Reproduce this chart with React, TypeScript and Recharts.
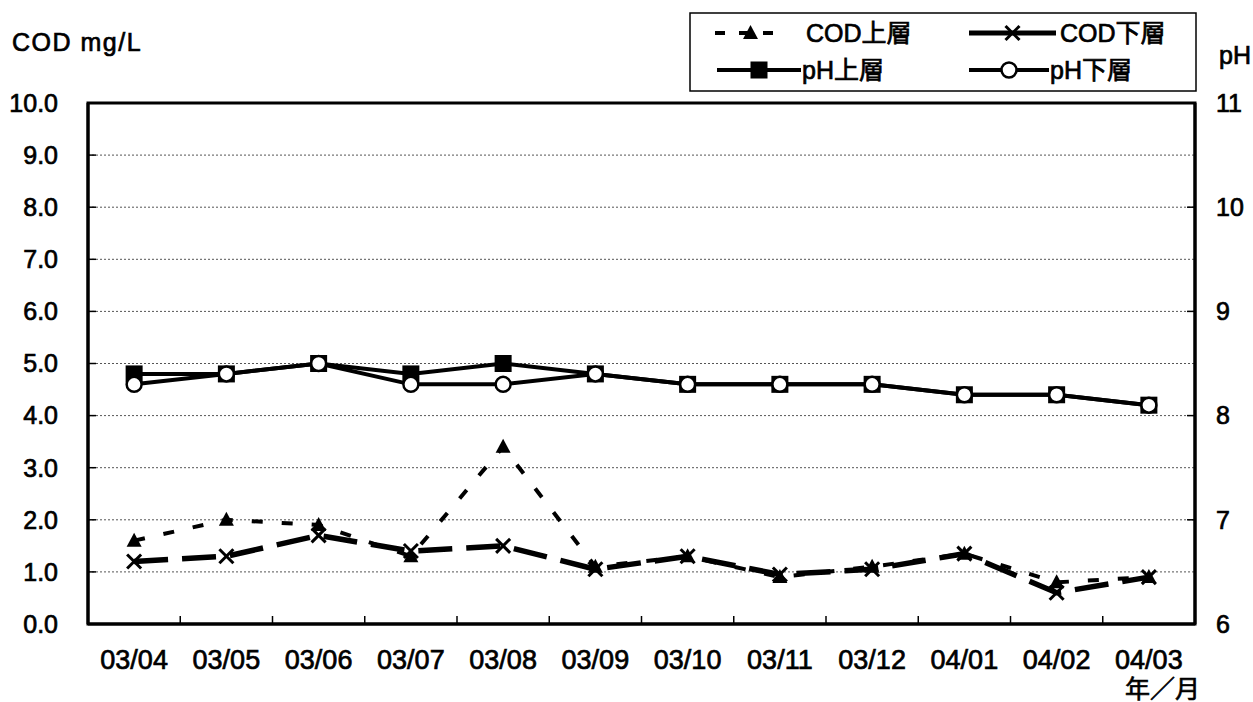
import React from 'react';
import { ComposedChart, Line, XAxis, YAxis, CartesianGrid, ReferenceArea } from 'recharts';

const categories = ['03/04', '03/05', '03/06', '03/07', '03/08', '03/09', '03/10', '03/11', '03/12', '04/01', '04/02', '04/03'];
const codUpper = [1.6, 2.0, 1.9, 1.3, 3.4, 1.1, 1.3, 0.9, 1.1, 1.35, 0.8, 0.9];
const codLower = [1.2, 1.3, 1.7, 1.4, 1.5, 1.05, 1.3, 0.95, 1.05, 1.35, 0.6, 0.9];
const phUpper = [8.4, 8.4, 8.5, 8.4, 8.5, 8.4, 8.3, 8.3, 8.3, 8.2, 8.2, 8.1];
const phLower = [8.3, 8.4, 8.5, 8.3, 8.3, 8.4, 8.3, 8.3, 8.3, 8.2, 8.2, 8.1];
const codTicks = [0, 1, 2, 3, 4, 5, 6, 7, 8, 9, 10];
const phTicks = [6, 7, 8, 9, 10, 11];

const data = categories.map((c, i) => ({
  cat: c,
  codU: codUpper[i],
  codL: codLower[i],
  phU: phUpper[i],
  phL: phLower[i],
}));

const FONT = '"Liberation Sans", Arial, "Noto Sans CJK JP", sans-serif';
const TEXT_STROKE = 0.7;
const X_TICK_SIZE = 6;
const X_TICK_MARGIN = 20;

const TriangleDot = (props: any) => {
  const { cx, cy, index } = props;
  if (cx == null || cy == null) return null;
  return <polygon key={`t${index}`} points={`${cx},${cy - 8} ${cx + 7.5},${cy + 6} ${cx - 7.5},${cy + 6}`} fill="#000" />;
};
const CrossDot = (props: any) => {
  const { cx, cy, index } = props;
  if (cx == null || cy == null) return null;
  return (
    <g key={`x${index}`}>
      <line x1={cx - 7} y1={cy - 7} x2={cx + 7} y2={cy + 7} stroke="#000" strokeWidth={3} />
      <line x1={cx - 7} y1={cy + 7} x2={cx + 7} y2={cy - 7} stroke="#000" strokeWidth={3} />
    </g>
  );
};
const SquareDot = (props: any) => {
  const { cx, cy, index } = props;
  if (cx == null || cy == null) return null;
  return <rect key={`s${index}`} x={cx - 8.5} y={cy - 8.5} width={17} height={17} fill="#000" />;
};
const CircleDot = (props: any) => {
  const { cx, cy, index } = props;
  if (cx == null || cy == null) return null;
  return <circle key={`c${index}`} cx={cx} cy={cy} r={7.5} fill="#fff" stroke="#000" strokeWidth={2.5} />;
};

const XTick = (props: any) => {
  const { x, y, payload, index } = props;
  const off = payload && typeof payload.offset === 'number' ? payload.offset : 0;
  const axisY = y - X_TICK_SIZE - X_TICK_MARGIN;
  return (
    <g>
      {index > 0 && off > 0 ? (
        <line x1={payload.coordinate - off} x2={payload.coordinate - off} y1={axisY} y2={axisY - 8} stroke="#000" strokeWidth={1.5} />
      ) : null}
      <text x={x} y={y} dy="0.71em" textAnchor="middle" fill="#000" stroke="#000" strokeWidth={TEXT_STROKE} fontSize={27} fontFamily={FONT}>
        {payload.value}
      </text>
    </g>
  );
};

const legendItems = [
  { name: 'COD上層', x: 715, y: 33, w: 71, tx: 806, dash: '10 14', sw: 4, marker: 'tri' },
  { name: 'COD下層', x: 969, y: 33, w: 87, tx: 1060, dash: undefined, sw: 5, marker: 'cross' },
  { name: 'pH上層', x: 717, y: 70, w: 84, tx: 802, dash: undefined, sw: 4, marker: 'square' },
  { name: 'pH下層', x: 969, y: 70, w: 80, tx: 1050, dash: undefined, sw: 4, marker: 'circle' },
];

const renderMarker = (m: string, cx: number, cy: number) => {
  if (m === 'tri') return <TriangleDot cx={cx} cy={cy} index={0} />;
  if (m === 'cross') return <CrossDot cx={cx} cy={cy} index={0} />;
  if (m === 'square') return <SquareDot cx={cx} cy={cy} index={0} />;
  return <CircleDot cx={cx} cy={cy} index={0} />;
};

const yTickStyle = { fill: '#000', stroke: '#000', strokeWidth: TEXT_STROKE, fontSize: 25, fontFamily: FONT };

export default function App() {
  return (
    <div style={{ position: 'absolute', left: 0, top: 0, width: 1253, height: 702, background: '#fff' }}>
      <ComposedChart width={1253} height={702} data={data} margin={{ top: 103, right: 0, bottom: 0, left: 0 }}>
        <CartesianGrid yAxisId="left" xAxisId="cat" vertical={false} stroke="#555" strokeDasharray="2 2" strokeWidth={1} />
        <XAxis
          xAxisId="cat"
          dataKey="cat"
          type="category"
          scale="band"
          height={78}
          tickLine={false}
          tickSize={X_TICK_SIZE}
          tickMargin={X_TICK_MARGIN}
          axisLine={{ stroke: '#000', strokeWidth: 3 }}
          tick={<XTick />}
          interval={0}
        />
        <YAxis
          yAxisId="left"
          domain={[0, 10]}
          ticks={codTicks}
          width={88}
          tickFormatter={(v: number) => v.toFixed(1)}
          tickSize={-8}
          tickMargin={38}
          tickLine={{ stroke: '#000', strokeWidth: 1.5 }}
          axisLine={{ stroke: '#000', strokeWidth: 3 }}
          tick={yTickStyle}
          interval={0}
        />
        <YAxis
          yAxisId="right"
          orientation="right"
          domain={[6, 11]}
          ticks={phTicks}
          width={58}
          tickSize={-8}
          tickMargin={29}
          tickLine={{ stroke: '#000', strokeWidth: 1.5 }}
          axisLine={{ stroke: '#000', strokeWidth: 3 }}
          tick={yTickStyle}
          interval={0}
        />
        <ReferenceArea yAxisId="left" xAxisId="cat" y1={0} y2={10} fill="none" stroke="#000" strokeWidth={3} ifOverflow="visible" />
        <Line xAxisId="cat" yAxisId="left" dataKey="codU" stroke="#000" strokeWidth={4} strokeDasharray="11 19" dot={TriangleDot} isAnimationActive={false} />
        <Line xAxisId="cat" yAxisId="left" dataKey="codL" stroke="#000" strokeWidth={5.5} strokeDasharray="34 14" dot={CrossDot} isAnimationActive={false} />
        <Line xAxisId="cat" yAxisId="right" dataKey="phU" stroke="#000" strokeWidth={4} dot={SquareDot} isAnimationActive={false} />
        <Line xAxisId="cat" yAxisId="right" dataKey="phL" stroke="#000" strokeWidth={4} dot={CircleDot} isAnimationActive={false} />
      </ComposedChart>
      <svg width={1253} height={702} style={{ position: 'absolute', left: 0, top: 0, pointerEvents: 'none' }}>
        <text x={12} y={51} fontSize={25} fontFamily={FONT} letterSpacing={1.5} fill="#000" stroke="#000" strokeWidth={TEXT_STROKE}>COD mg/L</text>
        <text x={1219} y={64} fontSize={25} fontFamily={FONT} fill="#000" stroke="#000" strokeWidth={TEXT_STROKE}>pH</text>
        <text x={1125} y={698} fontSize={25} fontFamily={FONT} fill="#000" stroke="#000" strokeWidth={TEXT_STROKE}>年／月</text>
        <rect x={690} y={13} width={506} height={78} fill="#fff" stroke="#000" strokeWidth={1.5} />
        {legendItems.map((it) => (
          <g key={it.name}>
            <line x1={it.x} y1={it.y} x2={it.x + it.w} y2={it.y} stroke="#000" strokeWidth={it.sw} strokeDasharray={it.dash} />
            {renderMarker(it.marker, it.x + it.w / 2, it.y)}
            <text x={it.tx} y={it.y + 9} fontSize={25} fontFamily={FONT} fill="#000" stroke="#000" strokeWidth={TEXT_STROKE}>{it.name}</text>
          </g>
        ))}
      </svg>
    </div>
  );
}
